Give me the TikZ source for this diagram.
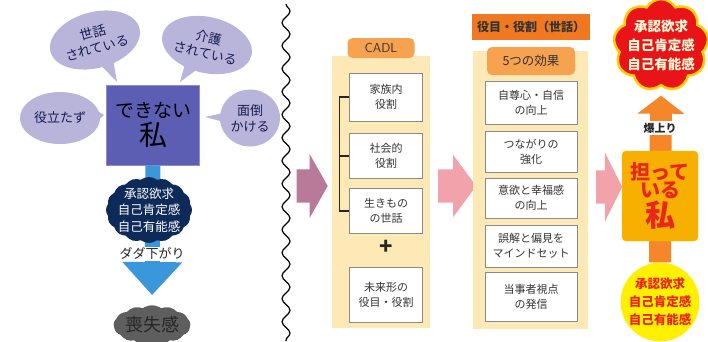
\documentclass[tikz,border=0pt]{standalone}
\usepackage{fontspec}
\setmainfont{Noto Sans CJK JP}
\usetikzlibrary{shapes.callouts,shapes.symbols,shapes.arrows,arrows.meta,decorations.pathmorphing}
\definecolor{bub}{HTML}{B8B4DA}
\definecolor{navyx}{HTML}{161B52}
\definecolor{boxblue}{HTML}{5C5EB4}
\definecolor{darkcloud}{HTML}{0E2A58}
\definecolor{barblue}{HTML}{3A98DA}
\definecolor{lossgray}{HTML}{5E5E5E}
\definecolor{mauve}{HTML}{B87A98}
\definecolor{pinkarr}{HTML}{F2A2AA}
\definecolor{panelbg}{HTML}{FCE9B6}
\definecolor{tab}{HTML}{F6A24E}
\definecolor{header}{HTML}{F07820}
\definecolor{boxline}{HTML}{8A8A8A}
\definecolor{orangebar}{HTML}{F5862A}
\definecolor{ninau}{HTML}{F8B000}
\definecolor{redtxt}{HTML}{E8261E}
\definecolor{redcloud}{HTML}{E81418}
\definecolor{ybright}{HTML}{FFF000}
\tikzset{
  bubble/.style={ellipse callout, fill=bub, text=navyx, inner sep=0pt, font=\fontsize{13}{16}\selectfont, align=center},
  whitebox/.style={draw=boxline, fill=white, line width=0.8pt, minimum width=73pt, inner sep=0pt, align=center, font=\fontsize{11}{15}\selectfont, text=black!80},
  tabbox/.style={fill=tab, rounded corners=5pt, inner sep=0pt, font=\fontsize{12.5}{14}\selectfont, text=black!80},
  panel/.style={fill=panelbg, draw=none},
  blockarrow/.style={single arrow, inner xsep=0pt, inner ysep=16.5pt, shape border rotate=0},
}
\begin{document}
\begin{tikzpicture}[x=1pt,y=-1pt]
\useasboundingbox[fill=white] (0,0) rectangle (708,341);

% ---------- left part ----------
\node[bubble, rotate=15, minimum width=92pt, minimum height=56pt, callout absolute pointer={(117,82)}] (b1) at (95,40)
  {世話\\されている};
\node[bubble, rotate=-13, minimum width=90pt, minimum height=56pt, callout absolute pointer={(180,82)}] (b2) at (207,45)
  {介護\\されている};
\node[bubble, minimum width=80pt, minimum height=52pt, callout absolute pointer={(104,115)}] (b3) at (60,118)
  {役立たず};
\node[bubble, minimum width=60pt, minimum height=57pt, callout absolute pointer={(205,117)}] (b4) at (250,118)
  {面倒\\かける};

\node[fill=boxblue, draw=boxblue!70!white, line width=1pt, minimum width=93pt, minimum height=80pt, inner sep=0pt,
      text=black, align=center, font=\fontsize{19}{22}\selectfont] (me) at (153,125)
  {できない\\[2pt]{\fontsize{28}{30}\selectfont 私}};

\node[cloud, cloud puffs=13, cloud puff arc=70, aspect=2.2, fill=lossgray, inner sep=0pt,
      minimum width=72pt, minimum height=30pt, font=\fontsize{18}{20}\selectfont, text=black!85] (loss) at (152,325) {喪失感};

\draw[barblue, line width=15pt, shorten >=10pt,
      -{Triangle[width=58pt,length=33pt]}] (me.south) -- (loss.north);

\node[cloud, cloud puffs=16, cloud puff arc=75, aspect=1.3, fill=darkcloud, inner sep=-6pt,
      minimum width=86pt, minimum height=66pt, align=center, text=white,
      font=\fontsize{12.5}{16.5}\selectfont] (need1) at (149,210) {承認欲求\\自己肯定感\\自己有能感};

\node[fill=white, inner sep=1pt, font=\fontsize{13}{15}\selectfont, text=black!85] (dada) at (152,254) {ダダ下がり};

% wavy separator
\coordinate (wtop) at (286,4);
\coordinate (wbot) at (286,341);
\draw[line width=1.2pt, decorate, decoration={snake, amplitude=4pt, segment length=23pt}] (wtop) -- (wbot);

\node[blockarrow, fill=mauve, minimum height=31pt, single arrow head extend=15.5pt,
      single arrow tip angle=121] (arr1) at (307.5,186) {};

% ---------- CADL panel ----------
\node[panel, minimum width=98pt, minimum height=272pt] (cadlpanel) at (381,192) {};
\node[tabbox, minimum width=67pt, minimum height=20pt, font=\sffamily\fontsize{13}{14}\selectfont] (cadl) at (381,48) {CADL};
\node[whitebox, minimum height=48pt] (c1) at (386,97) {家族内\\役割};
\node[whitebox, minimum height=45pt] (c2) at (386,156) {社会的\\役割};
\node[whitebox, minimum height=45pt] (c3) at (386,211) {生きもの\\の世話};
\node[font=\fontsize{22}{22}\selectfont\bfseries, text=black!85, inner sep=0pt] (plus) at (386,247) {+};
\node[whitebox, minimum height=55pt] (c4) at (386,295) {未来形の\\役目・役割};
\draw[line width=1.2pt, black!85] (c1.west) -- ++(-10,0) coordinate (k1) -- (k1 |- c3.west) -- (c3.west);
\draw[line width=1.2pt, black!85] (k1 |- c2.west) -- (c2.west);

\node[blockarrow, fill=pinkarr, minimum height=38pt, single arrow head extend=14.5pt,
      single arrow tip angle=107] (arr2) at (451,186) {};

% ---------- effects panel ----------
\node[fill=header, minimum width=118pt, minimum height=26pt, inner sep=0pt,
      font=\fontsize{12}{14}\selectfont\bfseries, text=black!80] (role) at (531,27) {役目・役割（世話）};
\node[panel, minimum width=115pt, minimum height=278pt] (effpanel) at (530,190) {};
\node[tabbox, minimum width=88pt, minimum height=28pt] (five) at (531,61) {5つの効果};
\node[whitebox, minimum width=92pt, minimum height=43pt] (e1) at (531,103) {自尊心・自信\\の向上};
\node[whitebox, minimum width=92pt, minimum height=41pt] (e2) at (531,152) {つながりの\\強化};
\node[whitebox, minimum width=92pt, minimum height=40pt] (e3) at (531,198) {意欲と幸福感\\の向上};
\node[whitebox, minimum width=92pt, minimum height=42pt] (e4) at (531,246) {誤解と偏見を\\マインドセット};
\node[whitebox, minimum width=92pt, minimum height=49pt] (e5) at (531,297) {当事者視点\\の発信};

\node[blockarrow, fill=pinkarr, minimum height=26pt, single arrow head extend=18pt,
      single arrow tip angle=127] (arr3) at (605,187) {};

% ---------- right column ----------
\node[circle, fill=ybright, minimum size=74pt, inner sep=0pt, align=center,
      font=\fontsize{12.5}{18}\selectfont\bfseries, text=redtxt] (need3) at (660,302) {承認欲求\\自己肯定感\\自己有能感};
\node[cloud, cloud puffs=9, cloud puff arc=120, aspect=1.05, fill=redcloud, draw=ybright!70!orange, line width=2.5pt,
      inner sep=-4pt, minimum width=90pt, minimum height=84pt, align=center, text=yellow!15!white,
      font=\fontsize{13.5}{19}\selectfont\bfseries] (need2) at (661,45) {承認欲求\\自己肯定感\\自己有能感};
\draw[orangebar, line width=22pt, shorten >=9pt,
      -{Triangle[width=46pt,length=18pt]}] (need3.north) -- (need2.south);
\node[fill=ninau, draw=ninau!80!yellow, rounded corners=4pt, minimum width=76pt, minimum height=90pt, inner sep=0pt,
      align=center, text=redtxt, font=\bfseries] (ninau) at (660,196)
  {{\fontsize{20}{23}\selectfont 担って}\\{\fontsize{20}{23}\selectfont いる}\\[1pt]{\fontsize{30}{30}\selectfont 私}};
\node[fill=white, inner sep=1.5pt, font=\fontsize{11}{13}\selectfont\bfseries, text=black!85] (bakua) at (660,128) {爆上り};
\end{tikzpicture}
\end{document}
